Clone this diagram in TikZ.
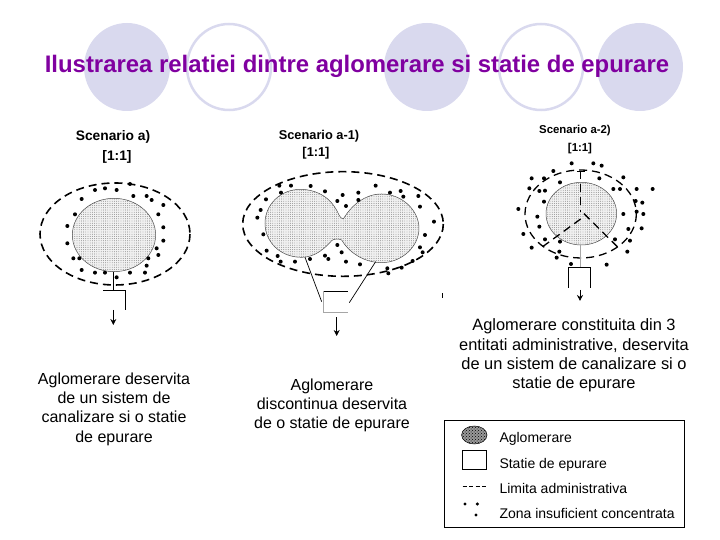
\documentclass[tikz,border=0pt]{standalone}
\usepackage{fontspec}
\setmainfont{Liberation Sans}
\usetikzlibrary{patterns,patterns.meta,arrows.meta}
\definecolor{disc}{RGB}{217,217,238}
\definecolor{titlepurple}{RGB}{128,0,160}
\tikzset{%
  disc full/.style={
    fill=disc,
    draw=none
  },
  disc ring/.style={
    draw=disc,
    line width=2.5pt
  },
  zone/.style={
    draw=black!70,
    line width=0.5pt,
    preaction={fill=black!5},
    pattern={Dots[distance=2.2pt,radius=0.42pt]},
    pattern color=black!60
  },
  boundary/.style={
    draw=black,
    line width=1.6pt,
    dash pattern=on 8pt off 5pt
  },
  sewer/.style={
    draw=black,
    line width=0.7pt
  },
  faint sewer/.style={
    draw=black!35,
    line width=0.7pt
  },
  scenario/.style={
    font=\bfseries,
    inner sep=0pt
  },
  caption/.style={
    font=\fontsize{16}{19.3}\selectfont,
    align=center,
    inner sep=0pt
  },
  legend text/.style={
    font=\fontsize{14}{16}\selectfont,
    anchor=base west,
    inner sep=0pt
  },
}

\begin{document}
\begin{tikzpicture}[> = {Stealth[length=6pt,width=6pt,inset=2pt]}, x=1pt, y=-1pt]
\useasboundingbox (0,0) rectangle (720,540);
% header
\foreach \x in {127,427,640}
    \fill[disc full] (\x,67) ellipse (43 and 44);
\foreach \x in {229,541}
    \draw[disc ring] (\x,67) ellipse (42 and 43);
\node[font=\fontsize{23.9}{28}\selectfont\bfseries, text=titlepurple, inner sep=0pt, anchor=base] (title) at (357,73) {Ilustrarea relatiei dintre aglomerare si statie de epurare};

% scenario a
\node[scenario, font=\fontsize{13.8}{16}\selectfont\bfseries] (labelA) at (113,137) {Scenario a)};
\node[scenario, font=\fontsize{13.8}{16}\selectfont\bfseries] (ratioA) at (117,157) {[1:1]};
\begin{scope}[shift={(20,120)}, x=0.3333pt, y=-0.3333pt]
\fill[zone] (282,345) ellipse (125 and 110);
\draw[boundary] (285,342) ellipse (225 and 153);
\foreach \x/\y in {225/210,255/205,290/210,330/192,185/237,340/228,380/228,395/240,430/255,165/283,415/283,142/318,430/322,142/370,430/362,410/385,160/415,178/415,385/415,415/405,380/437,185/450,225/458,255/458,290/472,330/458,375/458}
    \fill (\x,\y) circle (2pt);
\draw[sewer] (280,455) -- (280,510);
\draw[sewer] (250,510) -- (316,510) -- (316,570);
\draw[sewer,->] (280,570) -- (280,615);
\end{scope}

% scenario a-1
\node[scenario, font=\fontsize{12.8}{15}\selectfont\bfseries] (labelB) at (319,136) {Scenario a-1)};
\node[scenario, font=\fontsize{12.8}{15}\selectfont\bfseries] (ratioB) at (316,153) {[1:1]};
\begin{scope}[shift={(230,120)}, x=0.3333pt, y=-0.3333pt]
\path[zone] (340,297) .. controls (328,296) and (325,275) .. (312,258) .. controls (290,225) and (250,208) .. (212,208) .. controls (150,208) and (105,255) .. (105,310) .. controls (105,365) and (150,412) .. (215,412) .. controls (255,412) and (285,385) .. (305,362) .. controls (310,357) and (325,355) .. (335,360) .. controls (355,395) and (400,428) .. (455,428) .. controls (515,428) and (567,380) .. (567,325) .. controls (567,270) and (515,222) .. (455,222) .. controls (405,222) and (365,255) .. (340,297) -- cycle;
\draw[boundary] (339,312) ellipse (301 and 157);
\foreach \x/\y in {148/197,183/197,242/198,153/218,285/214,108/238,92/270,82/293,100/343,110/392,143/408,152/425,195/425,240/417,285/407,295/417,322/243,348/258,338/225,385/218,385/240,437/197,480/218,512/213,520/230,565/228,570/260,612/305,585/345,570/382,578/397,322/375,335/397,348/425,390/433,472/445,475/460,515/443,548/423}
    \fill (\x,\y) circle (2pt);
\draw[sewer] (225,412) -- (275,545);
\draw[sewer] (437,425) -- (358,548);
\draw[sewer] (280,513) -- (355,513);
\draw[faint sewer] (280,513) -- (280,577) -- (355,577);
\draw[sewer,->] (320,592) -- (320,648);
\draw[sewer,line width=1pt] (637,520) -- (637,535);
\end{scope}

% scenario a-2
\node[scenario, font=\fontsize{11.4}{14}\selectfont\bfseries] (labelC) at (575,131) {Scenario a-2)};
\node[scenario, font=\fontsize{11.4}{14}\selectfont\bfseries] (ratioC) at (580,149) {[1:1]};
\begin{scope}[shift={(490,115)}, x=0.3333pt, y=-0.3333pt]
\fill[zone] (274,296) ellipse (106 and 94);
\draw[boundary,line width=1.3pt] (272,297) ellipse (167 and 132);
\draw[boundary,line width=1.3pt] (272,168) -- (272,290);
\draw[boundary,line width=1.3pt] (272,312) -- (158,395);
\draw[boundary,line width=1.3pt] (282,296) -- (385,398);
\draw[sewer] (262,168) -- (285,168);
\foreach \x/\y in {245/145,310/145,335/152,190/168,162/190,125/190,210/202,328/190,400/187,118/220,148/228,165/227,370/222,390/222,440/222,488/222,162/260,437/258,457/263,85/282,440/290,460/297,400/297,142/305,148/335,415/342,455/340,100/357,165/373,210/380,375/373,420/377,125/398,412/410,208/410,200/428,243/447,350/449}
    \fill (\x,\y) circle (2pt);
\draw[faint sewer] (272,390) -- (272,457);
\draw[sewer] (235,518) -- (235,457) -- (302,457) -- (302,518);
\draw[sewer,->] (270,525) -- (270,558);
\end{scope}

% captions
\node[caption] (captionA) at (114,409) {Aglomerare deservita\\de un sistem de\\canalizare si o statie\\de epurare};
\node[caption] (captionB) at (332,405.5) {Aglomerare\\discontinua deservita\\de o statie de epurare};
\node[caption, font=\fontsize{16.4}{19.3}\selectfont] (captionC) at (574,355.5) {Aglomerare constituita din 3\\entitati administrative, deservita\\de un sistem de canalizare si o\\statie de epurare};

% legend
\draw[line width=0.8pt] (444,420) rectangle (684.5,527);
\path[draw=black, line width=0.5pt, preaction={fill=black!40}, pattern=crosshatch dots] (474.3,435) ellipse (12.7 and 9);
\draw[line width=0.7pt] (462.3,450.7) rectangle (486,469);
\draw[line width=0.7pt, dash pattern=on 4pt off 2.5pt] (462.7,486.7) -- (488,486.7);
\foreach \x/\y in {465/504,477.3/504,476/515}
    \fill (\x,\y) circle (1.7pt);
\node[legend text] (legendA) at (499.3,442.7) {Aglomerare};
\node[legend text] (legendB) at (499.3,468) {Statie de epurare};
\node[legend text] (legendC) at (499.3,493) {Limita administrativa};
\node[legend text] (legendD) at (499.3,518.3) {Zona insuficient concentrata};
\end{tikzpicture}
\end{document}
